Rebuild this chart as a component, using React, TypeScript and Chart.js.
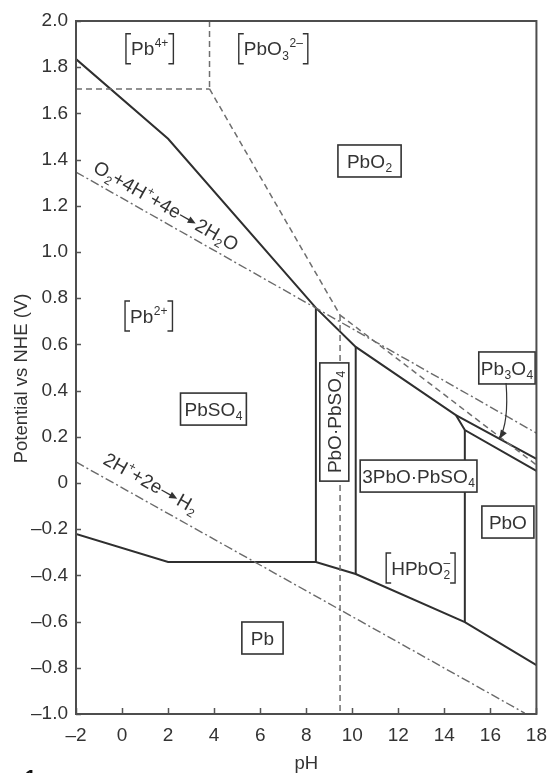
import React, { useEffect, useRef } from 'react';
import { Chart, registerables } from 'chart.js';

Chart.register(...registerables);

// ---------- axis ticks ----------
const xTickValues = [-2, 0, 2, 4, 6, 8, 10, 12, 14, 16, 18];
const yTickValues = [-1.0, -0.8, -0.6, -0.4, -0.2, 0, 0.2, 0.4, 0.6, 0.8, 1.0, 1.2, 1.4, 1.6, 1.8, 2.0];

// ---------- solid phase boundaries ----------
const pbo2LowerPH = [-2, 2.0, 8.42, 10.15, 14.5, 18];
const pbo2LowerE = [1.835, 1.49, 0.758, 0.589, 0.294, 0.104];
const pb3o4LowerPH = [14.5, 14.89, 18];
const pb3o4LowerE = [0.294, 0.229, 0.052];
const pbUpperPH = [-2, 2.0, 8.42, 10.15, 14.89, 18];
const pbUpperE = [-0.221, -0.342, -0.342, -0.394, -0.602, -0.788];
const wall1PH = [8.42, 8.42];
const wall1E = [0.758, -0.342];
const wall2PH = [10.15, 10.15];
const wall2E = [0.589, -0.394];
const wall3PH = [14.89, 14.89];
const wall3E = [0.229, -0.602];

// ---------- dashed (soluble species) boundaries ----------
const pb4HorizPH = [-2, 3.8];
const pb4HorizE = [1.706, 1.706];
const pb4VertPH = [3.8, 3.8];
const pb4VertE = [2.0, 1.706];
const pbo3DiagPH = [3.8, 9.47];
const pbo3DiagE = [1.706, 0.727];
const hpbo2VertPH = [9.47, 9.47];
const hpbo2VertE = [0.727, -1.0];
const pb3o4DashPH = [9.47, 18];
const pb3o4DashE = [0.727, 0.078];

// ---------- water stability lines (dash-dot) ----------
const o2LinePH = [-2, 18];
const o2LineE = [1.346, 0.216];
const h2LinePH = [-2, 17.49];
const h2LineE = [0.091, -0.996];

// ---------- arrow to Pb3O4 ----------
const arrowPH = [16.68, 16.38];
const arrowE = [0.433, 0.19];

type Run = { t: string; k: 'n' | 'sub' | 'sup' | 'ss' | 'arr'; t2?: string };
type Label = { runs: Run[]; x: number; y: number; kind: 'box' | 'bracket' | 'plain'; pad?: number; rot?: 'v' | 'o2' | 'h2' };

const n = (t: string): Run => ({ t, k: 'n' });
const sb = (t: string): Run => ({ t, k: 'sub' });
const sp = (t: string): Run => ({ t, k: 'sup' });
const arr: Run = { t: '→', k: 'arr' };

const regionLabels: Label[] = [
  { runs: [n('Pb'), sp('4+')], x: 1.2, y: 1.88, kind: 'bracket' },
  { runs: [n('PbO'), sb('3'), sp('2–')], x: 6.57, y: 1.88, kind: 'bracket' },
  { runs: [n('PbO'), sb('2')], x: 10.75, y: 1.394, kind: 'box', pad: 9 },
  { runs: [n('Pb'), sp('2+')], x: 1.16, y: 0.723, kind: 'bracket' },
  { runs: [n('PbSO'), sb('4')], x: 3.97, y: 0.32, kind: 'box', pad: 4 },
  { runs: [n('PbO·PbSO'), sb('4')], x: 9.22, y: 0.264, kind: 'box', pad: 8, rot: 'v' },
  { runs: [n('3PbO·PbSO'), sb('4')], x: 12.88, y: 0.03, kind: 'box', pad: 2 },
  { runs: [n('Pb'), sb('3'), n('O'), sb('4')], x: 16.72, y: 0.498, kind: 'box', pad: 2 },
  { runs: [n('PbO')], x: 16.76, y: -0.169, kind: 'box', pad: 7 },
  { runs: [n('HPbO'), { t: '2', k: 'ss', t2: '–' }], x: 12.97, y: -0.368, kind: 'bracket' },
  { runs: [n('Pb')], x: 6.1, y: -0.671, kind: 'box', pad: 9 },
  { runs: [n('O'), sb('2'), n('+4H'), sp('+'), n('+4e'), arr, n('2H'), sb('2'), n('O')], x: 1.92, y: 1.2, kind: 'plain', rot: 'o2' },
  { runs: [n('2H'), sp('+'), n('+2e'), arr, n('H'), sb('2')], x: 1.26, y: 0.0, kind: 'plain', rot: 'h2' },
];

const FONT = '"Liberation Sans", Arial, Helvetica, sans-serif';
const INK = '#333333';
const SIZE = 19;

function fontFor(size: number) {
  return `${size}px ${FONT}`;
}

function runsWidth(ctx: CanvasRenderingContext2D, runs: Run[], size: number) {
  const small = Math.round(size * 0.64);
  let w = 0;
  for (const r of runs) {
    if (r.k === 'n') {
      ctx.font = fontFor(size);
      w += ctx.measureText(r.t).width;
    } else if (r.k === 'arr') {
      w += size * 1.05;
    } else {
      ctx.font = fontFor(small);
      let ww = ctx.measureText(r.t).width;
      if (r.k === 'ss' && r.t2) ww = Math.max(ww, ctx.measureText(r.t2).width);
      w += ww + 0.5;
    }
  }
  return w;
}

function drawRuns(ctx: CanvasRenderingContext2D, runs: Run[], x0: number, base: number, size: number) {
  const small = Math.round(size * 0.64);
  let x = x0;
  ctx.textBaseline = 'alphabetic';
  ctx.textAlign = 'left';
  for (const r of runs) {
    if (r.k === 'n') {
      ctx.font = fontFor(size);
      ctx.fillText(r.t, x, base);
      x += ctx.measureText(r.t).width;
    } else if (r.k === 'arr') {
      const w = size * 1.05;
      const yy = base - size * 0.3;
      const x1 = x + 1;
      const x2 = x + w - 1;
      ctx.save();
      ctx.strokeStyle = ctx.fillStyle as string;
      ctx.lineWidth = 1.3;
      ctx.beginPath();
      ctx.moveTo(x1, yy);
      ctx.lineTo(x2 - 6, yy);
      ctx.stroke();
      ctx.beginPath();
      ctx.moveTo(x2, yy);
      ctx.lineTo(x2 - 8, yy - 3.5);
      ctx.lineTo(x2 - 8, yy + 3.5);
      ctx.closePath();
      ctx.fill();
      ctx.restore();
      x += w;
    } else {
      ctx.font = fontFor(small);
      const w1 = ctx.measureText(r.t).width;
      if (r.k === 'sub') {
        ctx.fillText(r.t, x + 0.5, base + size * 0.22);
        x += w1 + 0.5;
      } else if (r.k === 'sup') {
        ctx.fillText(r.t, x + 0.5, base - size * 0.42);
        x += w1 + 0.5;
      } else {
        ctx.fillText(r.t, x + 0.5, base + size * 0.22);
        const w2 = r.t2 ? ctx.measureText(r.t2).width : 0;
        if (r.t2) ctx.fillText(r.t2, x + 0.5, base - size * 0.42);
        x += Math.max(w1, w2) + 0.5;
      }
    }
  }
}

const overlayPlugin = {
  id: 'overlay',
  afterDatasetsDraw(chart: any) {
    const { ctx, scales } = chart;
    const xs = scales.x;
    const ys = scales.y;
    const px = (v: number) => xs.getPixelForValue(v);
    const py = (v: number) => ys.getPixelForValue(v);
    const angleOf = (xsArr: number[], ysArr: number[]) =>
      Math.atan2(py(ysArr[1]) - py(ysArr[0]), px(xsArr[1]) - px(xsArr[0]));

    ctx.save();
    for (const L of regionLabels) {
      const cx = px(L.x);
      const cy = py(L.y);
      const w = runsWidth(ctx, L.runs, SIZE);
      ctx.save();
      ctx.translate(cx, cy);
      if (L.rot === 'v') ctx.rotate(-Math.PI / 2);
      if (L.rot === 'o2') ctx.rotate(angleOf(o2LinePH, o2LineE));
      if (L.rot === 'h2') ctx.rotate(angleOf(h2LinePH, h2LineE));
      const bh = L.rot === 'v' ? 29 : 32;
      if (L.kind === 'box') {
        const bw = w + 2 * (L.pad ?? 6);
        ctx.fillStyle = '#ffffff';
        ctx.fillRect(-bw / 2, -bh / 2, bw, bh);
        ctx.strokeStyle = INK;
        ctx.lineWidth = 1.6;
        ctx.strokeRect(-bw / 2, -bh / 2, bw, bh);
      } else if (L.kind === 'bracket') {
        const g = 5;
        const s = 5;
        const lx = -w / 2 - g;
        const rx = w / 2 + g;
        const t = -bh / 2 + 1;
        const b = bh / 2 - 1;
        ctx.strokeStyle = INK;
        ctx.lineWidth = 1.4;
        ctx.beginPath();
        ctx.moveTo(lx + s, t);
        ctx.lineTo(lx, t);
        ctx.lineTo(lx, b);
        ctx.lineTo(lx + s, b);
        ctx.moveTo(rx - s, t);
        ctx.lineTo(rx, t);
        ctx.lineTo(rx, b);
        ctx.lineTo(rx - s, b);
        ctx.stroke();
      }
      ctx.fillStyle = INK;
      drawRuns(ctx, L.runs, -w / 2, SIZE * 0.35, SIZE);
      ctx.restore();
    }

    // curved arrow to the Pb3O4 boundary
    const ax0 = px(arrowPH[0]);
    const ay0 = py(arrowE[0]);
    const ax1 = px(arrowPH[1]);
    const ay1 = py(arrowE[1]);
    const cxp = ax0 + 3;
    const cyp = (ay0 + ay1) / 2 + 12;
    ctx.strokeStyle = INK;
    ctx.lineWidth = 1.2;
    ctx.beginPath();
    ctx.moveTo(ax0, ay0);
    ctx.quadraticCurveTo(cxp, cyp, ax1, ay1);
    ctx.stroke();
    const ang = Math.atan2(ay1 - cyp, ax1 - cxp);
    const hl = 9;
    const hw = 3.5;
    ctx.fillStyle = INK;
    ctx.beginPath();
    ctx.moveTo(ax1, ay1);
    ctx.lineTo(ax1 - hl * Math.cos(ang) + hw * Math.sin(ang), ay1 - hl * Math.sin(ang) - hw * Math.cos(ang));
    ctx.lineTo(ax1 - hl * Math.cos(ang) - hw * Math.sin(ang), ay1 - hl * Math.sin(ang) + hw * Math.cos(ang));
    ctx.closePath();
    ctx.fill();
    ctx.restore();
  },
  afterDraw(chart: any) {
    const { ctx, chartArea: a, scales } = chart;
    ctx.save();
    // inward tick marks
    ctx.strokeStyle = '#555555';
    ctx.lineWidth = 1.5;
    ctx.beginPath();
    for (const t of scales.x.ticks) {
      const x = Math.round(scales.x.getPixelForValue(t.value)) + 0.5;
      ctx.moveTo(x, a.bottom);
      ctx.lineTo(x, a.bottom - 6);
    }
    for (const t of scales.y.ticks) {
      const y = Math.round(scales.y.getPixelForValue(t.value)) + 0.5;
      ctx.moveTo(a.left, y);
      ctx.lineTo(a.left + 5, y);
    }
    ctx.stroke();
    // frame
    ctx.strokeStyle = '#4d4d4d';
    ctx.lineWidth = 2;
    ctx.strokeRect(a.left, a.top, a.right - a.left, a.bottom - a.top);
    // axis titles
    ctx.fillStyle = INK;
    ctx.font = fontFor(18.5);
    ctx.textAlign = 'center';
    ctx.textBaseline = 'middle';
    ctx.fillText('pH', (a.left + a.right) / 2, 764);
    ctx.save();
    ctx.translate(22, (a.top + a.bottom) / 2 + 11);
    ctx.rotate(-Math.PI / 2);
    ctx.fillText('Potential vs NHE (V)', 0, 0);
    ctx.restore();
    // panel number, cut by the page edge
    ctx.font = `bold 20px ${FONT}`;
    ctx.textAlign = 'left';
    ctx.textBaseline = 'top';
    ctx.fillStyle = '#111111';
    ctx.fillText('1', 25, 768);
    ctx.restore();
  },
};

function pts(xs: number[], ys: number[]) {
  return xs.map((x, i) => ({ x, y: ys[i] }));
}

const fmt = (v: number, digits: number) => {
  if (Math.abs(v) < 1e-9) return '0';
  const s = Math.abs(v).toFixed(digits);
  return v < 0 ? '–' + s : s;
};

export default function App() {
  const ref = useRef<HTMLCanvasElement>(null);

  useEffect(() => {
    const canvas = ref.current;
    if (!canvas) return;
    const solid = { borderColor: '#2f2f2f', borderWidth: 2, borderDash: [] as number[] };
    const dashed = { borderColor: '#6e6e6e', borderWidth: 1.5, borderDash: [6, 4] };
    const dashDot = { borderColor: '#6a6a6a', borderWidth: 1.4, borderDash: [9, 3, 2, 3] };
    const ds = (data: any[], style: any) => ({
      data,
      showLine: true,
      pointRadius: 0,
      pointHoverRadius: 0,
      fill: false,
      tension: 0,
      borderJoinStyle: 'miter',
      ...style,
    });

    const chart = new Chart(canvas, {
      type: 'scatter',
      data: {
        datasets: [
          ds(pts(o2LinePH, o2LineE), dashDot),
          ds(pts(h2LinePH, h2LineE), dashDot),
          ds(pts(pb4HorizPH, pb4HorizE), dashed),
          ds(pts(pb4VertPH, pb4VertE), dashed),
          ds(pts(pbo3DiagPH, pbo3DiagE), dashed),
          ds(pts(hpbo2VertPH, hpbo2VertE), dashed),
          ds(pts(pb3o4DashPH, pb3o4DashE), dashed),
          ds(pts(pbo2LowerPH, pbo2LowerE), solid),
          ds(pts(pb3o4LowerPH, pb3o4LowerE), solid),
          ds(pts(pbUpperPH, pbUpperE), solid),
          ds(pts(wall1PH, wall1E), solid),
          ds(pts(wall2PH, wall2E), solid),
          ds(pts(wall3PH, wall3E), solid),
        ] as any,
      },
      options: {
        responsive: false,
        animation: false,
        devicePixelRatio: 1,
        events: [],
        layout: { padding: { left: 0, top: 21, right: 12, bottom: 0 } },
        plugins: { legend: { display: false }, tooltip: { enabled: false }, title: { display: false } },
        scales: {
          x: {
            type: 'linear',
            min: xTickValues[0],
            max: xTickValues[xTickValues.length - 1],
            afterBuildTicks: (s: any) => {
              s.ticks = xTickValues.map((v) => ({ value: v }));
            },
            afterFit: (s: any) => {
              s.height = 59;
            },
            grid: { display: false, drawTicks: false },
            border: { display: false },
            ticks: {
              padding: 10,
              color: INK,
              font: { family: FONT, size: 19 },
              maxRotation: 0,
              autoSkip: false,
              callback: (v: any) => fmt(Number(v), 0),
            },
          },
          y: {
            type: 'linear',
            min: yTickValues[0],
            max: yTickValues[yTickValues.length - 1],
            afterBuildTicks: (s: any) => {
              s.ticks = yTickValues.map((v) => ({ value: v }));
            },
            afterFit: (s: any) => {
              s.width = 76;
            },
            grid: { display: false, drawTicks: false },
            border: { display: false },
            ticks: {
              padding: 8,
              color: INK,
              font: { family: FONT, size: 19 },
              autoSkip: false,
              callback: (v: any) => fmt(Number(v), 1),
            },
          },
        },
      } as any,
      plugins: [overlayPlugin as any],
    });
    return () => chart.destroy();
  }, []);

  return (
    <div style={{ position: 'absolute', left: 0, top: 0, width: 557, height: 773, background: '#ffffff', overflow: 'hidden' }}>
      <canvas ref={ref} width={557} height={773} style={{ display: 'block', width: 557, height: 773 }} />
    </div>
  );
}
